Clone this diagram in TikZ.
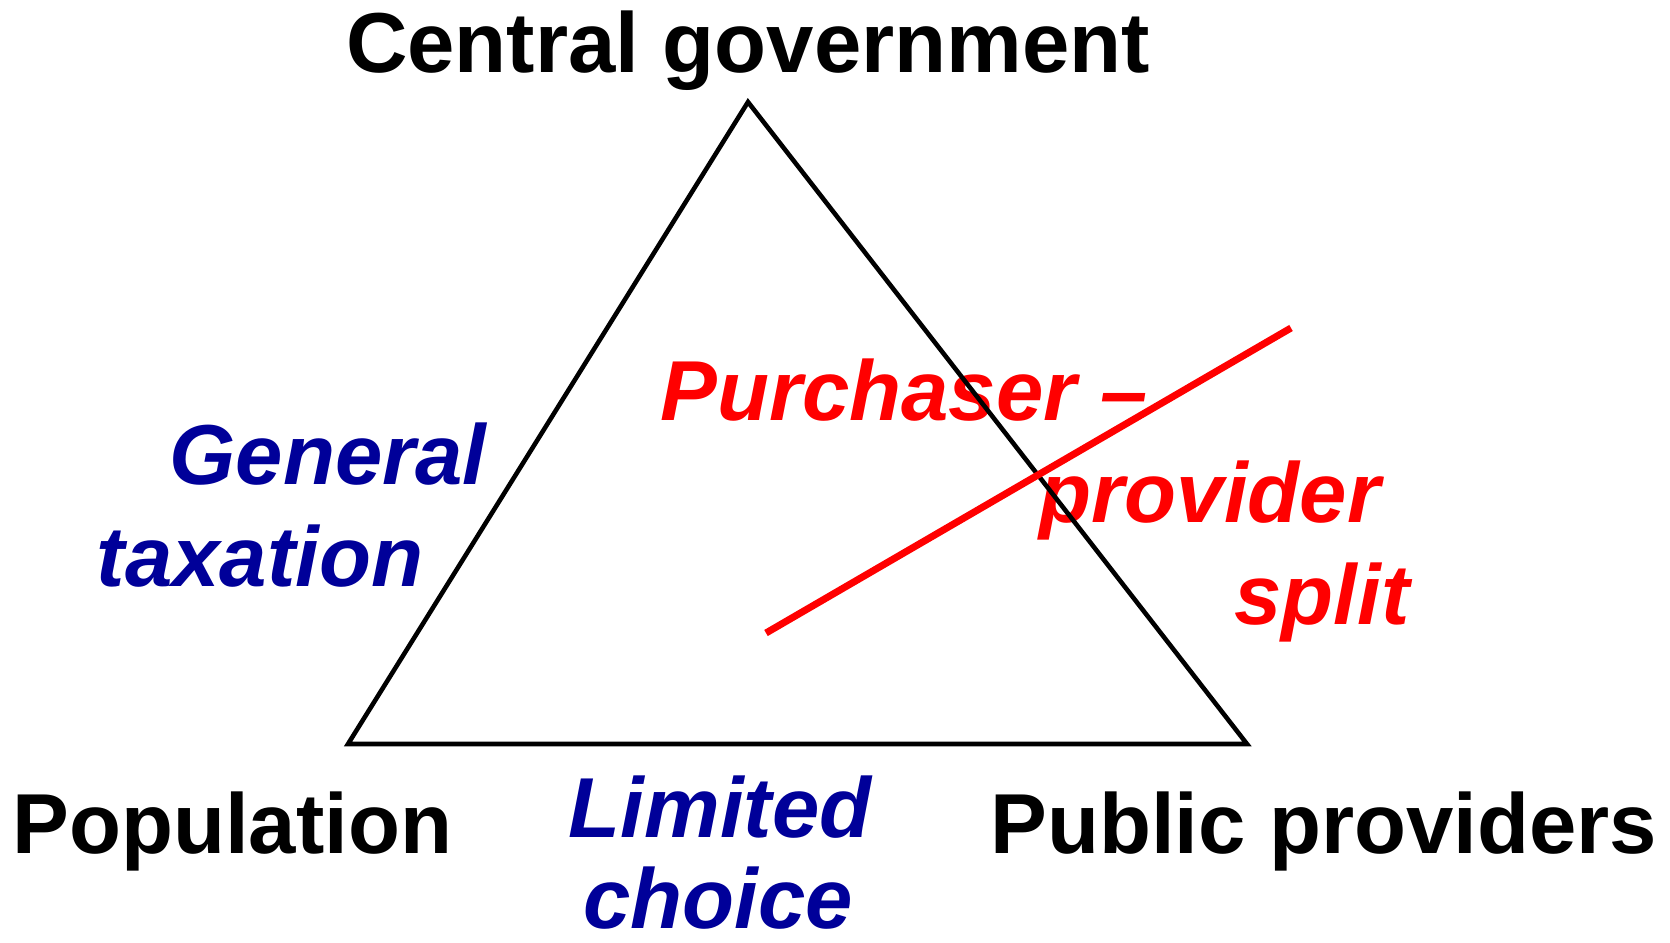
\documentclass[tikz,border=0pt]{standalone}
\usepackage{fontspec}
\setmainfont{Liberation Sans}
\usepackage{tikz}
\definecolor{navy}{RGB}{0,0,153}

\begin{document}
\begin{tikzpicture}[x=0.01cm,y=-0.01cm,line width=1.3pt,main node/.style={anchor=base,inner sep=0pt,font=\fontsize{24.2}{29}\selectfont\bfseries},side node/.style={main node,text=navy,font=\fontsize{24.2}{29}\selectfont\bfseries\itshape},split node/.style={side node,text=red}]
  \useasboundingbox (0,0) rectangle (1670,943);
  \coordinate (a) at (748,102);
  \coordinate (b) at (348,744);
  \coordinate (c) at (1247,744);
  \coordinate (p) at (766,633);
  \coordinate (q) at (1291,328);

  \node[main node] (1) at (748,73) {Central government};
  \node[main node,anchor=base west] (2) at (10,853) {Population};
  \node[main node,anchor=base west] (3) at (988,853) {Public providers};
  \node[side node] (4) at (328,484) {General};
  \node[side node] (5) at (260,586) {taxation};
  \node[side node] (6) at (720,837) {Limited};
  \node[side node] (7) at (718,928) {choice};
  \node[split node] (8) at (904,420) {Purchaser –};
  \node[split node] (9) at (1210,522) {provider};
  \node[split node] (10) at (1322,624) {split};

\draw (a) -- (b) -- (c) -- cycle;
\draw[red,line width=2pt] (p) -- (q);
\end{tikzpicture}
\end{document}
